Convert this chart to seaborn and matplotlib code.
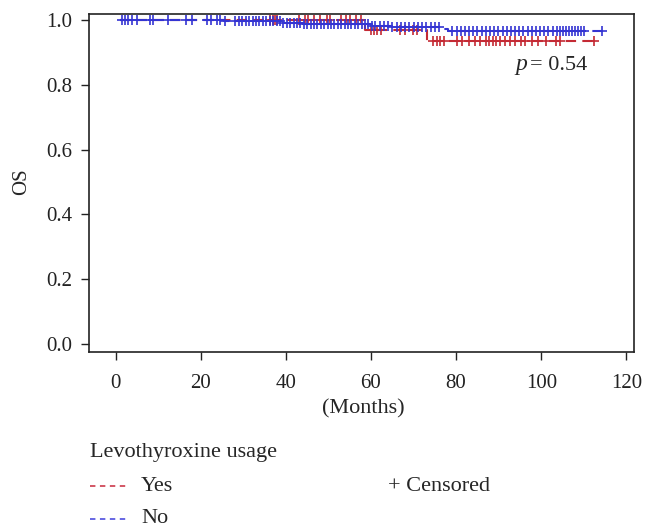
import numpy as np
import pandas as pd
import matplotlib
matplotlib.use("Agg")
import matplotlib.pyplot as plt
import seaborn as sns
from matplotlib.lines import Line2D

# Kaplan-Meier steps (months, survival)
yes_step_t = [1.0, 58.6, 73.2, 112.5]
yes_step_s = [1.0, 0.969, 0.936, 0.936]
no_step_t = [1.0, 25.4, 39.2, 44.1, 59.9, 64.8, 76.6, 78.1, 114.5]
no_step_s = [1.0, 0.997, 0.992, 0.988, 0.981, 0.978, 0.972, 0.966, 0.966]

# censoring times
yes_cens = [36.3, 36.9, 37.5, 38.0, 43.2, 44.6, 45.3, 46.6, 48.1, 49.6, 50.3,
            53.0, 54.2, 55.0, 56.4, 57.7, 59.9, 60.7, 61.5, 62.4, 66.8, 68.0,
            69.9, 70.9, 74.6, 75.4, 76.2, 77.2, 80.1, 81.5, 83.0, 84.5, 85.7,
            87.0, 87.7, 88.6, 89.4, 90.4, 91.4, 92.6, 93.8, 95.3, 96.3, 97.8,
            99.2, 101.2, 103.4, 104.5, 112.3]
no_cens = [1.5, 2.2, 2.9, 3.8, 5.0, 8.1, 8.8, 12.4, 16.6, 18.0, 21.5, 22.5,
           23.8, 24.5, 25.7, 28.0, 29.0, 29.8, 30.6, 31.4, 32.2, 33.0, 33.8,
           34.6, 35.4, 36.2, 37.0, 37.8, 38.6, 39.4, 40.2, 41.0, 41.8, 42.6,
           43.4, 44.2, 45.0, 45.8, 46.6, 47.4, 48.2, 49.0, 49.8, 50.6, 51.4,
           52.2, 53.0, 53.8, 54.6, 55.4, 56.2, 57.0, 57.8, 58.6, 59.4, 60.2,
           61.0, 62.0, 63.0, 64.0, 65.0, 66.0, 67.0, 68.0, 69.0, 70.0, 71.0,
           72.0, 73.0, 74.0, 75.0, 76.0, 79.1, 80.1, 81.1, 82.0, 83.0, 84.0,
           85.0, 86.0, 87.0, 87.9, 88.9, 89.9, 90.9, 91.9, 92.9, 93.8, 94.8,
           95.8, 96.8, 97.8, 98.8, 99.7, 100.7, 101.7, 102.7, 103.7, 104.5,
           105.2, 105.9, 106.6, 107.3, 108.0, 108.7, 109.4, 110.1, 114.3]

x_ticks = [0, 20, 40, 60, 80, 100, 120]
y_ticks = [0.0, 0.2, 0.4, 0.6, 0.8, 1.0]

RED = "#C42A34"
BLUE = "#3434D2"

sns.set_style("ticks")
plt.rcParams["font.family"] = ["Liberation Serif", "DejaVu Serif"]


def surv_at(t, step_t, step_s):
    idx = np.searchsorted(step_t, t, side="right") - 1
    return np.array(step_s)[np.clip(idx, 0, len(step_s) - 1)]


curves = pd.concat([
    pd.DataFrame({"t": yes_step_t, "s": yes_step_s, "grp": "Yes"}),
    pd.DataFrame({"t": no_step_t, "s": no_step_s, "grp": "No"}),
])
cens = pd.concat([
    pd.DataFrame({"t": yes_cens, "s": surv_at(yes_cens, yes_step_t, yes_step_s), "grp": "Yes"}),
    pd.DataFrame({"t": no_cens, "s": surv_at(no_cens, no_step_t, no_step_s), "grp": "No"}),
])
pal = {"Yes": RED, "No": BLUE}

fig = plt.figure(figsize=(6.56, 5.25), dpi=100)
ax = fig.add_axes([0.1357, 0.3295, 0.8308, 0.6438])

for grp in ["Yes", "No"]:
    d = curves[curves["grp"] == grp]
    sns.lineplot(data=d, x="t", y="s", ax=ax, color=pal[grp], lw=1.5,
                 linestyle=(0, (5, 3)), drawstyle="steps-post", sort=False,
                 estimator=None, legend=False)
for grp in ["Yes", "No"]:
    d = cens[cens["grp"] == grp]
    ax.scatter(d["t"], d["s"], marker="+", s=45, color=pal[grp], linewidths=1.2, zorder=3)

ax.set_xlim(-6.25, 121.8)
ax.set_ylim(-0.025, 1.0185)
ax.set_xticks(x_ticks)
ax.set_yticks(y_ticks)
ax.set_xticklabels([str(v) for v in x_ticks])
ax.set_yticklabels([f"{v:.1f}" for v in y_ticks])
for sp in ax.spines.values():
    sp.set_visible(True)
    sp.set_linewidth(1.2)
    sp.set_color("#222222")
ax.tick_params(direction="out", length=6, width=1, labelsize=15, pad=6, colors="#222222")
ax.tick_params(axis="x", pad=10)
ax.set_xlabel("")
ax.set_ylabel("")
fig.text(0.0335, 0.653, "OS", rotation=90, fontsize=15, va="center", ha="center")
fig.text(0.554, 0.222, "(Months)", fontsize=16, va="center", ha="center")

ax.text(94.0, 0.862, "p", fontsize=17, fontstyle="italic", ha="left", va="center")
ax.text(97.3, 0.86, "= 0.54", fontsize=16, ha="left", va="center")

# bottom legend drawn in figure coordinates
fig.text(0.137, 0.139, "Levothyroxine usage", fontsize=16, va="center")
fig.add_artist(Line2D([0.137, 0.195], [0.074, 0.074], color="#D04858", lw=1.3,
                      linestyle=(0, (3, 2.5))))
fig.text(0.215, 0.074, "Yes", fontsize=16, va="center")
fig.add_artist(Line2D([0.137, 0.195], [0.012, 0.012], color="#5A5AE0", lw=1.3,
                      linestyle=(0, (3, 2.5))))
fig.text(0.215, 0.012, "No", fontsize=16, va="center")
fig.text(0.591, 0.074, "+ Censored", fontsize=16, va="center")

fig.savefig("out.png", dpi=100)
